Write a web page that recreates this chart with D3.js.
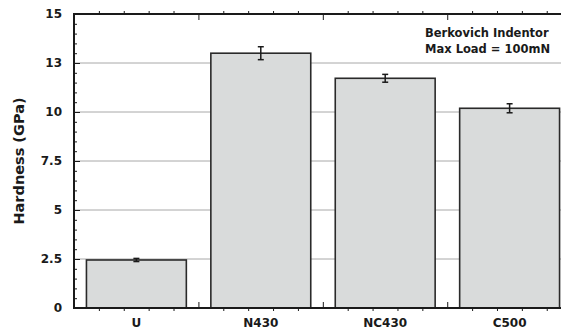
<!DOCTYPE html>
<html>
<head>
<meta charset="utf-8">
<script src="https://cdn.jsdelivr.net/npm/d3@7"></script>
<style>
  body { margin: 0; background: #fff; }
  svg { display: block; }
  text { font-family: "DejaVu Sans", sans-serif; font-weight: bold; fill: #1a1a1a; }
</style>
</head>
<body>
<div class="chart"></div>
<script>
var categories = ["U", "N430", "NC430", "C500"];
var hardness = [2.45, 13.0, 11.72, 10.19];
var errors = [0.08, 0.33, 0.2, 0.23];
var yTicks = [0, 2.5, 5, 7.5, 10, 12.5, 15];
var yTickLabels = ["0", "2.5", "5", "7.5", "10", "13", "15"];
var notes = ["Berkovich Indentor", "Max Load = 100mN"];

var W = 561, H = 333;
var plotLeft = 74, plotTop = 14, plotBottom = 308, plotRight = 572;

var x = d3.scaleBand()
  .domain(categories)
  .range([plotLeft, plotRight])
  .paddingInner(0.197)
  .paddingOuter(0.1);

var y = d3.scaleLinear()
  .domain([0, 15])
  .range([plotBottom, plotTop]);

var svg = d3.select(".chart").append("svg")
  .attr("width", W)
  .attr("height", H);

// gridlines
svg.selectAll(".grid")
  .data(yTicks.filter(function (d) { return d > 0 && d < 15; }))
  .enter().append("line")
  .attr("x1", plotLeft).attr("x2", W)
  .attr("y1", function (d) { return y(d); })
  .attr("y2", function (d) { return y(d); })
  .style("stroke", "#a8a8a8")
  .style("stroke-width", 1);

// bars
svg.selectAll(".bar")
  .data(categories)
  .enter().append("rect")
  .attr("x", function (d) { return x(d); })
  .attr("width", x.bandwidth())
  .attr("y", function (d, i) { return y(hardness[i]); })
  .attr("height", function (d, i) { return y(0) - y(hardness[i]); })
  .style("fill", "#d9dbdb")
  .style("stroke", "#2a2a2a")
  .style("stroke-width", 1.6);

// error bars
var eb = svg.selectAll(".err")
  .data(categories)
  .enter().append("g")
  .attr("transform", function (d) { return "translate(" + (x(d) + x.bandwidth() / 2) + ",0)"; })
  .style("stroke", "#1a1a1a")
  .style("stroke-width", 1.5);

eb.append("line")
  .attr("y1", function (d, i) { return y(hardness[i] + errors[i]); })
  .attr("y2", function (d, i) { return y(hardness[i] - errors[i]); });
eb.append("line")
  .attr("x1", -3).attr("x2", 3)
  .attr("y1", function (d, i) { return y(hardness[i] + errors[i]); })
  .attr("y2", function (d, i) { return y(hardness[i] + errors[i]); });
eb.append("line")
  .attr("x1", -3).attr("x2", 3)
  .attr("y1", function (d, i) { return y(hardness[i] - errors[i]); })
  .attr("y2", function (d, i) { return y(hardness[i] - errors[i]); });

function noDomain(g) { g.select(".domain").remove(); g.selectAll("line").style("stroke", "#1a1a1a"); }
function labelStyle(g) {
  g.select(".domain").remove();
  g.selectAll("text").style("font-size", "12px")
    .style("font-family", "'DejaVu Sans', sans-serif").style("font-weight", "bold")
    .attr("fill", "#1a1a1a");
}

// y axis: minor and major ticks pointing inward
var yMinor = d3.range(0, 15.01, 0.5);
svg.append("g")
  .attr("transform", "translate(" + plotLeft + ",0)")
  .call(d3.axisRight(y).tickValues(yMinor).tickSize(3).tickFormat(""))
  .call(noDomain);
svg.append("g")
  .attr("transform", "translate(" + plotLeft + ",0)")
  .call(d3.axisRight(y).tickValues(yTicks).tickSize(6).tickFormat(""))
  .call(noDomain);
svg.append("g")
  .attr("class", "y axis")
  .attr("transform", "translate(" + plotLeft + ",0)")
  .call(d3.axisLeft(y).tickValues(yTicks).tickSize(0).tickPadding(12)
    .tickFormat(function (d, i) { return yTickLabels[i]; }))
  .call(labelStyle);

// x axis ticks: minor outward, major inward at category boundaries
var step = x.step();
var xMinor = d3.range(0, 21).filter(function (k) { return k % 5 !== 0; })
  .map(function (k) { return plotLeft + k * step / 5; });
var xMajor = d3.range(1, 4).map(function (k) { return plotLeft + k * step; });
var xs = d3.scaleLinear().domain([0, W]).range([0, W]);

svg.append("g")
  .attr("transform", "translate(0," + plotBottom + ")")
  .call(d3.axisBottom(xs).tickValues(xMinor).tickSize(3).tickFormat(""))
  .call(noDomain);
svg.append("g")
  .attr("transform", "translate(0," + plotBottom + ")")
  .call(d3.axisTop(xs).tickValues(xMajor).tickSize(6).tickFormat(""))
  .call(noDomain);
svg.append("g")
  .attr("transform", "translate(0," + plotTop + ")")
  .call(d3.axisTop(xs).tickValues(xMinor).tickSize(3).tickFormat(""))
  .call(noDomain);
svg.append("g")
  .attr("transform", "translate(0," + plotTop + ")")
  .call(d3.axisBottom(xs).tickValues(xMajor).tickSize(6).tickFormat(""))
  .call(noDomain);

// category labels
svg.append("g")
  .attr("transform", "translate(0," + plotBottom + ")")
  .call(d3.axisBottom(x).tickSize(0).tickPadding(10))
  .call(labelStyle);

// frame lines
svg.append("line").attr("x1", plotLeft).attr("x2", W).attr("y1", plotTop).attr("y2", plotTop)
  .style("stroke", "#1a1a1a").style("stroke-width", 2);
svg.append("line").attr("x1", plotLeft).attr("x2", W).attr("y1", plotBottom).attr("y2", plotBottom)
  .style("stroke", "#1a1a1a").style("stroke-width", 2);
svg.append("line").attr("x1", plotLeft).attr("x2", plotLeft).attr("y1", plotTop - 1).attr("y2", plotBottom + 1)
  .style("stroke", "#1a1a1a").style("stroke-width", 2);

// y title
svg.append("text")
  .attr("transform", "translate(24," + ((plotTop + plotBottom) / 2) + ") rotate(-90)")
  .attr("text-anchor", "middle")
  .style("font-size", "14.5px")
  .text("Hardness (GPa)");

// annotation
svg.selectAll(".note")
  .data(notes)
  .enter().append("text")
  .attr("x", 425)
  .attr("y", function (d, i) { return 37 + i * 16; })
  .style("font-size", "11.5px")
  .text(function (d) { return d; });
</script>
</body>
</html>
